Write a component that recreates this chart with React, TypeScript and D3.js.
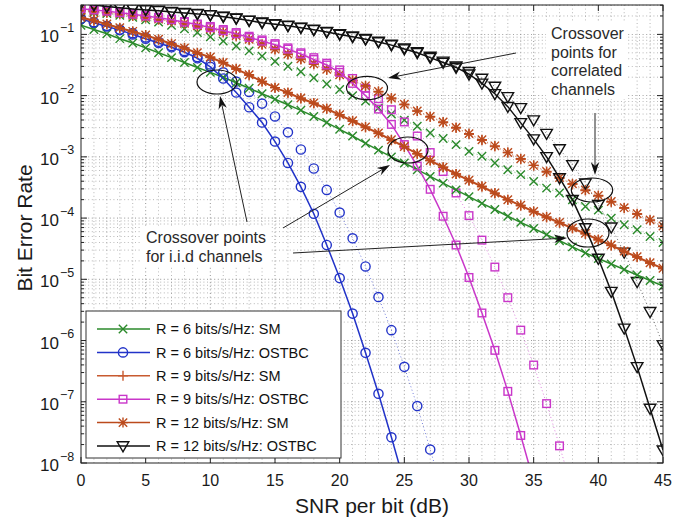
import React, { useEffect, useRef } from 'react';
import * as d3 from 'd3';

// SNR per bit (dB), one marker per dB
const snrDb = d3.range(0, 46);

// log10(BER); "Iid" = solid curves, "Cor" = dotted (correlated) curves
const sm6Iid = [-0.85, -0.92, -0.99, -1.07, -1.14, -1.22, -1.30, -1.38, -1.46, -1.54, -1.62, -1.70, -1.79, -1.88, -1.97, -2.06, -2.15, -2.24, -2.34, -2.44, -2.55, -2.66, -2.78, -2.89, -3.0, -3.1, -3.21, -3.32, -3.43, -3.54, -3.65, -3.76, -3.86, -3.97, -4.07, -4.17, -4.27, -4.37, -4.47, -4.57, -4.66, -4.75, -4.84, -4.93, -5.02, -5.11];
const sm6Cor = [-0.62, -0.64, -0.66, -0.69, -0.72, -0.76, -0.80, -0.85, -0.91, -0.97, -1.04, -1.11, -1.19, -1.27, -1.355, -1.44, -1.52, -1.61, -1.71, -1.81, -1.90, -2.0, -2.09, -2.2, -2.3, -2.4, -2.5, -2.61, -2.7, -2.8, -2.91, -2.99, -3.1, -3.21, -3.29, -3.4, -3.51, -3.59, -3.7, -3.81, -3.87, -4.0, -4.11, -4.19, -4.3, -4.40];
const ostbc6Iid = [-0.75, -0.81, -0.87, -0.93, -1.0, -1.07, -1.14, -1.21, -1.29, -1.39, -1.53, -1.72, -1.95, -2.19, -2.44, -2.75, -3.10, -3.49, -3.93, -4.44, -4.98, -5.56, -6.2, -6.87, -7.58, -8.32];
const ostbc6Cor = [-0.74, -0.80, -0.86, -0.92, -0.98, -1.05, -1.12, -1.19, -1.27, -1.37, -1.49, -1.62, -1.77, -1.94, -2.13, -2.34, -2.6, -2.88, -3.19, -3.54, -3.91, -4.33, -4.79, -5.29, -5.83, -6.43, -7.07, -7.78, -8.5];
const sm9Iid = [-0.73, -0.78, -0.84, -0.90, -0.96, -1.02, -1.09, -1.16, -1.23, -1.31, -1.38, -1.47, -1.57, -1.67, -1.77, -1.87, -1.96, -2.05, -2.13, -2.22, -2.32, -2.42, -2.52, -2.62, -2.73, -2.84, -2.95, -3.06, -3.17, -3.28, -3.39, -3.49, -3.60, -3.70, -3.80, -3.90, -3.99, -4.08, -4.17, -4.26, -4.36, -4.45, -4.55, -4.64, -4.74, -4.83];
const sm9Cor = [-0.61, -0.63, -0.65, -0.67, -0.70, -0.73, -0.76, -0.79, -0.83, -0.87, -0.92, -0.97, -1.03, -1.09, -1.17, -1.25, -1.33, -1.41, -1.49, -1.58, -1.67, -1.76, -1.85, -1.94, -2.05, -2.15, -2.25, -2.35, -2.44, -2.53, -2.63, -2.73, -2.83, -2.93, -3.04, -3.14, -3.25, -3.35, -3.45, -3.55, -3.64, -3.74, -3.84, -3.94, -4.04, -4.14];
const ostbc9Iid = [-0.58, -0.60, -0.62, -0.645, -0.67, -0.70, -0.73, -0.76, -0.80, -0.84, -0.89, -0.94, -0.99, -1.05, -1.11, -1.17, -1.24, -1.32, -1.41, -1.50, -1.62, -1.80, -2.0, -2.22, -2.47, -2.80, -3.15, -3.53, -3.97, -4.44, -4.97, -5.55, -6.16, -6.83, -7.55, -8.3];
const ostbc9Cor = [-0.57, -0.59, -0.61, -0.635, -0.66, -0.69, -0.72, -0.75, -0.79, -0.83, -0.87, -0.92, -0.97, -1.03, -1.09, -1.15, -1.22, -1.30, -1.38, -1.47, -1.58, -1.72, -1.88, -2.05, -2.23, -2.43, -2.66, -2.93, -3.24, -3.59, -3.96, -4.36, -4.80, -5.30, -5.83, -6.40, -7.03, -7.72, -8.45];
const sm12Iid = [-0.72, -0.77, -0.83, -0.89, -0.95, -1.01, -1.08, -1.15, -1.22, -1.30, -1.37, -1.46, -1.56, -1.66, -1.77, -1.87, -1.95, -2.04, -2.12, -2.21, -2.31, -2.41, -2.51, -2.61, -2.72, -2.83, -2.95, -3.06, -3.17, -3.28, -3.38, -3.48, -3.59, -3.70, -3.79, -3.89, -3.98, -4.07, -4.16, -4.25, -4.35, -4.44, -4.54, -4.63, -4.73, -4.82];
const sm12Cor = [-0.60, -0.62, -0.64, -0.66, -0.69, -0.72, -0.75, -0.78, -0.82, -0.86, -0.91, -0.96, -1.02, -1.08, -1.16, -1.24, -1.32, -1.40, -1.48, -1.57, -1.66, -1.75, -1.84, -1.93, -2.04, -2.14, -2.25, -2.34, -2.43, -2.52, -2.62, -2.72, -2.82, -2.93, -3.03, -3.14, -3.24, -3.34, -3.44, -3.54, -3.63, -3.73, -3.83, -3.93, -4.03, -4.13];
const ostbc12Iid = [-0.49, -0.52, -0.545, -0.565, -0.585, -0.60, -0.615, -0.635, -0.65, -0.665, -0.685, -0.71, -0.74, -0.775, -0.81, -0.836, -0.86, -0.89, -0.925, -0.96, -1.0, -1.04, -1.08, -1.125, -1.175, -1.24, -1.30, -1.38, -1.46, -1.54, -1.65, -1.80, -1.97, -2.18, -2.445, -2.71, -3.0, -3.345, -3.70, -4.16, -4.66, -5.2, -5.8, -6.43, -7.11, -7.79];
const ostbc12Cor = [-0.48, -0.515, -0.54, -0.56, -0.58, -0.595, -0.61, -0.63, -0.645, -0.66, -0.68, -0.705, -0.735, -0.77, -0.80, -0.83, -0.855, -0.885, -0.92, -0.955, -0.99, -1.03, -1.07, -1.115, -1.165, -1.225, -1.285, -1.36, -1.44, -1.52, -1.61, -1.72, -1.85, -2.02, -2.2, -2.40, -2.62, -2.87, -3.13, -3.43, -3.78, -4.15, -4.56, -5.04, -5.53, -6.07];

const legendNames = ['R = 6 bits/s/Hz: SM', 'R = 6 bits/s/Hz: OSTBC', 'R = 9 bits/s/Hz: SM', 'R = 9 bits/s/Hz: OSTBC', 'R = 12 bits/s/Hz: SM', 'R = 12 bits/s/Hz: OSTBC'];
const xTicks = [0, 5, 10, 15, 20, 25, 30, 35, 40, 45];
const yDecades = [-8, -7, -6, -5, -4, -3, -2, -1];

const series = [
  { name: legendNames[0], iid: sm6Iid, cor: sm6Cor, color: '#2b8a2b', marker: 'x' },
  { name: legendNames[1], iid: ostbc6Iid, cor: ostbc6Cor, color: '#2233c8', marker: 'o' },
  { name: legendNames[2], iid: sm9Iid, cor: sm9Cor, color: '#c85a30', marker: '+' },
  { name: legendNames[3], iid: ostbc9Iid, cor: ostbc9Cor, color: '#c936c9', marker: 's' },
  { name: legendNames[4], iid: sm12Iid, cor: sm12Cor, color: '#bb4a1c', marker: '*' },
  { name: legendNames[5], iid: ostbc12Iid, cor: ostbc12Cor, color: '#111111', marker: 'v' },
];

const W = 692;
const H = 523;
const FONT = '"Liberation Sans", Arial, Helvetica, sans-serif';

const drawMarker = (g: any, type: string, cx: number, cy: number, color: string) => {
  const sw = 1.4;
  if (type === 'o') {
    g.append('circle').attr('cx', cx).attr('cy', cy).attr('r', 4.6)
      .attr('fill', 'none').attr('stroke', color).attr('stroke-width', sw);
  } else if (type === 's') {
    g.append('rect').attr('x', cx - 3.8).attr('y', cy - 3.8).attr('width', 7.6).attr('height', 7.6)
      .attr('fill', 'none').attr('stroke', color).attr('stroke-width', sw);
  } else if (type === 'v') {
    g.append('path').attr('d', `M${cx - 5.8},${cy - 4.2} L${cx + 5.8},${cy - 4.2} L${cx},${cy + 5.8} Z`)
      .attr('fill', 'none').attr('stroke', color).attr('stroke-width', sw);
  } else {
    const s = 4.2;
    let d = '';
    if (type === 'x' || type === '*') d += `M${cx - s},${cy - s}L${cx + s},${cy + s}M${cx - s},${cy + s}L${cx + s},${cy - s}`;
    if (type === '+' || type === '*') d += `M${cx - s - 0.8},${cy}L${cx + s + 0.8},${cy}M${cx},${cy - s - 0.8}L${cx},${cy + s + 0.8}`;
    g.append('path').attr('d', d).attr('fill', 'none').attr('stroke', color).attr('stroke-width', sw);
  }
};

const drawArrow = (g: any, x1: number, y1: number, x2: number, y2: number) => {
  const ang = Math.atan2(y2 - y1, x2 - x1);
  const len = 13, half = 4.2, notch = 9;
  const bx = x2 - len * Math.cos(ang), by = y2 - len * Math.sin(ang);
  const nx = x2 - notch * Math.cos(ang), ny = y2 - notch * Math.sin(ang);
  const px = -Math.sin(ang), py = Math.cos(ang);
  g.append('line').attr('x1', x1).attr('y1', y1).attr('x2', nx).attr('y2', ny)
    .attr('stroke', '#222').attr('stroke-width', 1);
  g.append('path')
    .attr('d', `M${x2},${y2} L${bx + px * half},${by + py * half} L${nx},${ny} L${bx - px * half},${by - py * half} Z`)
    .attr('fill', '#111');
};

const App: React.FC = () => {
  const svgRef = useRef<SVGSVGElement>(null);

  useEffect(() => {
    if (!svgRef.current) return;
    const svg = d3.select(svgRef.current);
    svg.selectAll('*').remove();

    const left = 81, right = 663, top = 5, bottom = 463;
    const x = d3.scaleLinear().domain([0, 45]).range([left, right]);
    const y = d3.scaleLog().domain([1e-8, Math.pow(10, -0.52)]).range([bottom, top]);

    svg.append('rect').attr('width', W).attr('height', H).attr('fill', '#fff');

    svg.append('defs').append('clipPath').attr('id', 'plotClip')
      .append('rect').attr('x', left).attr('y', top).attr('width', right - left).attr('height', bottom - top);

    // grid
    const grid = svg.append('g').attr('stroke', '#6e6e6e').attr('stroke-width', 0.75)
      .attr('stroke-dasharray', '1,2.6');
    d3.range(1, 45).forEach((v) => {
      grid.append('line').attr('x1', x(v)).attr('x2', x(v)).attr('y1', top).attr('y2', bottom)
        .attr('opacity', v % 5 === 0 ? 0.95 : 0.65);
    });
    yDecades.forEach((e) => {
      d3.range(1, 10).forEach((m) => {
        const v = m * Math.pow(10, e);
        if (v <= 1e-8 || y(v) < top) return;
        grid.append('line').attr('x1', left).attr('x2', right).attr('y1', y(v)).attr('y2', y(v))
          .attr('opacity', m === 1 ? 0.95 : 0.65);
      });
    });

    // curves
    const plot = svg.append('g').attr('clip-path', 'url(#plotClip)');
    const line = d3.line<number>().x((_, i) => x(snrDb[i])).y((d) => y(Math.pow(10, d)));

    series.forEach((s) => {
      plot.append('path').attr('d', line(s.cor)).attr('fill', 'none')
        .attr('stroke', s.color).attr('stroke-width', 0.9).attr('stroke-dasharray', '1,2.5').attr('opacity', 0.7);
      s.cor.forEach((d, i) => drawMarker(plot, s.marker, x(snrDb[i]), y(Math.pow(10, d)), s.color));
    });
    series.forEach((s) => {
      plot.append('path').attr('d', line(s.iid)).attr('fill', 'none')
        .attr('stroke', s.color).attr('stroke-width', 1.5);
      s.iid.forEach((d, i) => drawMarker(plot, s.marker, x(snrDb[i]), y(Math.pow(10, d)), s.color));
    });

    // axes box and ticks
    const axes = svg.append('g').attr('stroke', '#222').attr('stroke-width', 1);
    axes.append('rect').attr('x', left).attr('y', top).attr('width', right - left).attr('height', bottom - top)
      .attr('fill', 'none');
    xTicks.forEach((v) => {
      axes.append('line').attr('x1', x(v)).attr('x2', x(v)).attr('y1', bottom).attr('y2', bottom - 6);
      axes.append('line').attr('x1', x(v)).attr('x2', x(v)).attr('y1', top).attr('y2', top + 6);
    });
    yDecades.forEach((e) => {
      d3.range(1, 10).forEach((m) => {
        const v = m * Math.pow(10, e);
        if (y(v) < top) return;
        const len = m === 1 ? 6 : 3;
        axes.append('line').attr('x1', left).attr('x2', left + len).attr('y1', y(v)).attr('y2', y(v));
        axes.append('line').attr('x1', right).attr('x2', right - len).attr('y1', y(v)).attr('y2', y(v));
      });
    });

    const txt = svg.append('g').attr('font-family', FONT).attr('fill', '#1a1a1a');
    xTicks.forEach((v) => {
      txt.append('text').attr('x', x(v)).attr('y', 486).attr('text-anchor', 'middle')
        .attr('font-size', 16).text(String(v));
    });
    yDecades.forEach((e) => {
      const ty = y(Math.pow(10, e));
      txt.append('text').attr('x', 59).attr('y', ty + 8).attr('text-anchor', 'end')
        .attr('font-size', 17).text('10');
      txt.append('text').attr('x', 60).attr('y', ty - 2.5).attr('font-size', 12.5).text(`\u2212${-e}`);
    });
    txt.append('text').attr('x', 372).attr('y', 512.5).attr('text-anchor', 'middle')
      .attr('font-size', 21).text('SNR per bit (dB)');
    txt.append('text').attr('transform', 'translate(31.5,228) rotate(-90)').attr('text-anchor', 'middle')
      .attr('font-size', 21).text('Bit Error Rate');

    // annotations
    const ann = svg.append('g');
    ann.append('rect').attr('x', 140).attr('y', 226).attr('width', 130).attr('height', 40).attr('fill', '#fff');
    ann.append('rect').attr('x', 546).attr('y', 21).attr('width', 82).attr('height', 78).attr('fill', '#fff');
    const ellipses = [[217, 82, 20, 12], [408, 150, 20, 13], [588, 233, 21, 14], [367, 88, 20.5, 11.7], [592, 190, 20.7, 12]];
    ellipses.forEach(([cx, cy, rx, ry]) => {
      ann.append('ellipse').attr('cx', cx).attr('cy', cy).attr('rx', rx).attr('ry', ry)
        .attr('fill', 'none').attr('stroke', '#111').attr('stroke-width', 1.2);
    });
    drawArrow(ann, 247, 222, 220, 96);
    drawArrow(ann, 283, 228, 390, 165);
    drawArrow(ann, 293, 253, 567, 238);
    drawArrow(ann, 516, 53, 388, 78);
    drawArrow(ann, 595, 113, 595, 175);
    const at = ann.append('g').attr('font-family', FONT).attr('font-size', 16).attr('fill', '#2a2a2a');
    at.append('text').attr('x', 146).attr('y', 243).text('Crossover points');
    at.append('text').attr('x', 146).attr('y', 262).text('for i.i.d channels');
    ['Crossover', 'points for', 'correlated', 'channels'].forEach((t, i) => {
      at.append('text').attr('x', 551).attr('y', 39 + i * 18.7).text(t);
    });

    // legend
    const lg = svg.append('g');
    lg.append('rect').attr('x', 86).attr('y', 311).attr('width', 255).attr('height', 147)
      .attr('fill', '#fff').attr('stroke', '#333').attr('stroke-width', 1);
    series.forEach((s, i) => {
      const ly = 329 + i * 23.4;
      lg.append('line').attr('x1', 97).attr('x2', 150).attr('y1', ly).attr('y2', ly)
        .attr('stroke', s.color).attr('stroke-width', 1.5);
      drawMarker(lg, s.marker, 123, ly, s.color);
      lg.append('text').attr('x', 156).attr('y', ly + 5.2).attr('font-family', FONT)
        .attr('font-size', 14.5).attr('fill', '#111').text(s.name);
    });
  }, []);

  return <svg ref={svgRef} width={W} height={H} style={{ display: 'block', position: 'absolute', left: 0, top: 0 }} />;
};

export default App;
